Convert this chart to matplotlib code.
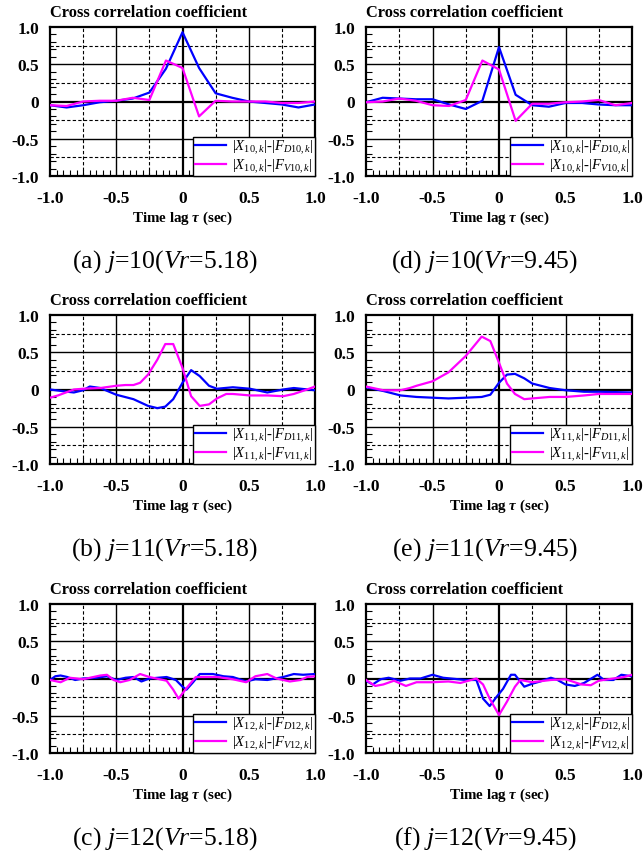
import numpy as np
import matplotlib
matplotlib.use("Agg")
import matplotlib.pyplot as plt
from matplotlib.ticker import MultipleLocator, FuncFormatter
from matplotlib.lines import Line2D

plt.rcParams['font.family'] = ['Liberation Serif', 'DejaVu Serif']
plt.rcParams['mathtext.fontset'] = 'custom'
plt.rcParams['mathtext.rm'] = 'Liberation Serif'
plt.rcParams['mathtext.it'] = 'Liberation Serif:italic'
plt.rcParams['mathtext.bf'] = 'Liberation Serif:bold'
plt.rcParams['mathtext.bfit'] = 'Liberation Serif:bold:italic'
plt.rcParams['axes.unicode_minus'] = False

# ---------------- data ----------------
# (a) j=10, Vr=5.18
a_x = [-1.0, -0.875, -0.75, -0.625, -0.5, -0.375, -0.25, -0.125, 0.0, 0.125, 0.25, 0.375, 0.5, 0.625, 0.75, 0.875, 1.0]
a_D = [-0.05, -0.08, -0.05, -0.01, 0.01, 0.04, 0.12, 0.44, 0.93, 0.45, 0.11, 0.05, 0.0, -0.02, -0.04, -0.08, -0.04]
a_V = [-0.05, -0.06, 0.0, 0.01, 0.01, 0.05, 0.02, 0.55, 0.45, -0.20, 0.01, 0.0, 0.0, 0.0, -0.02, -0.02, 0.0]

# (d) j=10, Vr=9.45
d_x = [-1.0, -0.875, -0.75, -0.625, -0.5, -0.375, -0.25, -0.125, 0.0, 0.125, 0.25, 0.375, 0.5, 0.625, 0.75, 0.875, 1.0]
d_D = [-0.01, 0.05, 0.04, 0.03, 0.03, -0.04, -0.10, 0.01, 0.73, 0.09, -0.05, -0.07, -0.02, -0.02, -0.04, -0.05, -0.05]
d_V = [-0.01, 0.0, 0.04, 0.01, -0.05, -0.06, 0.02, 0.55, 0.43, -0.26, -0.03, -0.03, -0.01, 0.0, 0.02, -0.05, -0.02]

# (b) j=11, Vr=5.18
b_Dx = [-1.0, -0.87, -0.82, -0.75, -0.7, -0.62, -0.5, -0.37, -0.26, -0.19, -0.13, -0.07, 0.0, 0.065, 0.13, 0.2, 0.26, 0.38, 0.51, 0.64, 0.76, 0.84, 1.0]
b_D = [0.0, -0.03, -0.04, -0.01, 0.04, 0.02, -0.07, -0.13, -0.22, -0.25, -0.23, -0.13, 0.09, 0.26, 0.18, 0.05, 0.01, 0.03, 0.01, -0.04, 0.0, 0.02, -0.01]
b_Vx = [-1.0, -0.94, -0.82, -0.75, -0.62, -0.5, -0.43, -0.37, -0.32, -0.26, -0.19, -0.13, -0.07, 0.0, 0.065, 0.13, 0.2, 0.26, 0.33, 0.38, 0.51, 0.64, 0.76, 0.84, 0.94, 1.0]
b_V = [-0.11, -0.08, 0.0, 0.01, 0.02, 0.05, 0.06, 0.06, 0.09, 0.2, 0.4, 0.61, 0.61, 0.29, -0.09, -0.22, -0.2, -0.12, -0.06, -0.06, -0.08, -0.08, -0.09, -0.06, 0.0, 0.04]

# (e) j=11, Vr=9.45
e_Dx = [-1.0, -0.87, -0.74, -0.62, -0.5, -0.38, -0.25, -0.13, -0.065, 0.0, 0.06, 0.12, 0.19, 0.25, 0.38, 0.5, 0.64, 0.75, 1.0]
e_D = [0.03, -0.02, -0.08, -0.10, -0.11, -0.12, -0.11, -0.10, -0.07, 0.09, 0.20, 0.21, 0.15, 0.08, 0.02, -0.01, -0.03, -0.03, -0.04]
e_Vx = [-1.0, -0.87, -0.74, -0.67, -0.62, -0.5, -0.38, -0.25, -0.13, -0.065, 0.0, 0.06, 0.12, 0.19, 0.25, 0.38, 0.5, 0.64, 0.75, 1.0]
e_V = [0.04, -0.01, -0.01, 0.02, 0.05, 0.11, 0.23, 0.45, 0.71, 0.65, 0.36, 0.08, -0.06, -0.13, -0.12, -0.10, -0.10, -0.08, -0.06, -0.06]

# (c) j=12, Vr=5.18
c_Dx = [-1.0, -0.96, -0.92, -0.87, -0.81, -0.75, -0.65, -0.57, -0.5, -0.43, -0.37, -0.31, -0.25, -0.12, -0.05, 0.0, 0.03, 0.08, 0.13, 0.23, 0.31, 0.38, 0.48, 0.55, 0.64, 0.76, 0.84, 0.91, 1.0]
c_D = [-0.02, 0.03, 0.04, 0.02, -0.02, 0.0, 0.01, 0.03, -0.02, 0.01, 0.02, -0.04, 0.0, 0.02, -0.02, -0.11, -0.15, -0.05, 0.06, 0.06, 0.03, 0.02, -0.04, -0.01, -0.02, 0.02, 0.06, 0.05, 0.06]
c_Vx = [-1.0, -0.92, -0.85, -0.75, -0.62, -0.57, -0.52, -0.47, -0.4, -0.32, -0.25, -0.12, -0.07, -0.03, 0.03, 0.1, 0.26, 0.38, 0.48, 0.55, 0.64, 0.71, 0.81, 0.89, 0.94, 1.0]
c_V = [-0.02, -0.05, 0.01, -0.01, 0.04, 0.05, -0.02, -0.05, -0.02, 0.06, 0.02, -0.03, -0.15, -0.27, -0.13, 0.02, 0.02, -0.01, -0.05, 0.03, 0.06, 0.0, -0.04, -0.02, 0.02, 0.03]

# (f) j=12, Vr=9.45
f_Dx = [-1.0, -0.95, -0.89, -0.83, -0.74, -0.67, -0.59, -0.5, -0.42, -0.25, -0.17, -0.12, -0.07, -0.02, 0.03, 0.09, 0.12, 0.19, 0.25, 0.31, 0.39, 0.44, 0.5, 0.57, 0.64, 0.74, 0.79, 0.86, 0.92, 1.0]
f_D = [-0.03, -0.08, -0.01, 0.01, -0.03, 0.0, 0.0, 0.05, 0.01, -0.02, -0.02, -0.27, -0.37, -0.25, -0.14, 0.05, 0.05, -0.11, -0.07, -0.04, 0.01, -0.02, -0.08, -0.10, -0.06, 0.05, -0.02, -0.02, 0.05, 0.03]
f_Vx = [-1.0, -0.93, -0.87, -0.79, -0.7, -0.62, -0.5, -0.38, -0.29, -0.17, -0.12, -0.07, 0.0, 0.06, 0.12, 0.16, 0.25, 0.39, 0.5, 0.62, 0.69, 0.75, 0.86, 0.94, 1.0]
f_V = [-0.02, -0.10, -0.08, -0.03, -0.10, -0.05, -0.05, -0.04, -0.06, 0.0, -0.08, -0.27, -0.49, -0.31, -0.11, -0.02, -0.05, -0.02, -0.01, -0.08, -0.09, -0.03, 0.0, 0.02, 0.05]

panels = [
    ("(a) ", "10", "5.18", a_x, a_D, a_x, a_V),
    ("(b) ", "11", "5.18", b_Dx, b_D, b_Vx, b_V),
    ("(c) ", "12", "5.18", c_Dx, c_D, c_Vx, c_V),
    ("(d) ", "10", "9.45", d_x, d_D, d_x, d_V),
    ("(e) ", "11", "9.45", e_Dx, e_D, e_Vx, e_V),
    ("(f) ", "12", "9.45", f_Dx, f_D, f_Vx, f_V),
]

W, H = 643, 853
fig = plt.figure(figsize=(W / 100, H / 100), dpi=100)

col_left = [50, 366]
col_w = [265, 266]
cap_center = [165, 485]
row_top = [28, 316, 605]
ax_h = 149

fmt = FuncFormatter(lambda v, p: '0' if abs(v) < 1e-9 else f'{v:.1f}')

for i, (lab, j, vr, xD, yD, xV, yV) in enumerate(panels):
    col = i // 3
    row = i % 3
    l = col_left[col] / W
    b = 1 - (row_top[row] + ax_h) / H
    ax = fig.add_axes([l, b, col_w[col] / W, ax_h / H])
    ax.set_xlim(-1, 1)
    ax.set_ylim(-1, 1)

    for g in (-0.75, -0.25, 0.25, 0.75):
        ax.axhline(g, color='black', lw=0.8, ls=(0, (3, 2)), zorder=1)
        ax.axvline(g, color='black', lw=0.8, ls=(0, (3, 2)), zorder=1)
    for g in (-0.5, 0.5):
        ax.axhline(g, color='black', lw=1.0, zorder=1)
        ax.axvline(g, color='black', lw=1.0, zorder=1)
    ax.axhline(0, color='black', lw=1.6, zorder=2)
    ax.axvline(0, color='black', lw=1.6, zorder=2)

    ax.plot(xD, yD, color='#0000ff', lw=1.6, zorder=3)
    ax.plot(xV, yV, color='#ff00ff', lw=1.6, zorder=3)

    ax.xaxis.set_major_locator(MultipleLocator(0.5))
    ax.yaxis.set_major_locator(MultipleLocator(0.5))
    ax.xaxis.set_minor_locator(MultipleLocator(0.05))
    ax.yaxis.set_minor_locator(MultipleLocator(0.1))
    ax.xaxis.set_major_formatter(fmt)
    ax.yaxis.set_major_formatter(fmt)
    ax.tick_params(which='both', direction='in', top=False, right=False)
    ax.tick_params(which='major', length=0, labelsize=12.5)
    ax.tick_params(axis='x', which='major', pad=10)
    ax.tick_params(axis='y', which='major', pad=8)
    ax.tick_params(which='minor', length=4, width=0.8)
    for t in ax.get_xticklabels() + ax.get_yticklabels():
        t.set_fontweight('bold')
    for s in ax.spines.values():
        s.set_linewidth(1.6)

    handles = [Line2D([], [], color='#0000ff', lw=1.6), Line2D([], [], color='#ff00ff', lw=1.6)]
    labels = [rf'$|X_{{{j},k}}|$-$|F_{{D{j},k}}|$', rf'$|X_{{{j},k}}|$-$|F_{{V{j},k}}|$']
    leg = ax.legend(handles, labels, loc='lower right', fontsize=10.6, frameon=True,
                    fancybox=False, borderpad=0.1, borderaxespad=0.0, handlelength=2.1,
                    handletextpad=0.4, labelspacing=0.0, framealpha=1)
    leg.get_frame().set_edgecolor('black')
    leg.get_frame().set_linewidth(1.0)
    leg.set_zorder(5)

    ax.text(0.0, 1.05, 'Cross correlation coefficient', transform=ax.transAxes,
            ha='left', va='bottom', fontsize=11.8, fontweight='bold')
    ax.text(0.5, -41 / ax_h, r'Time lag $\mathbfit{\tau}$ (sec)', transform=ax.transAxes,
            ha='center', va='center', fontsize=10.8, fontweight='bold')
    cy = row_top[row] + ax_h + 85
    fig.text(cap_center[col] / W, 1 - cy / H,
             lab + r'$\mathit{j}$=' + j + r'($\mathit{Vr}$=' + vr + ')',
             ha='center', va='center', fontsize=18.5)

fig.savefig('out.png', dpi=100)
